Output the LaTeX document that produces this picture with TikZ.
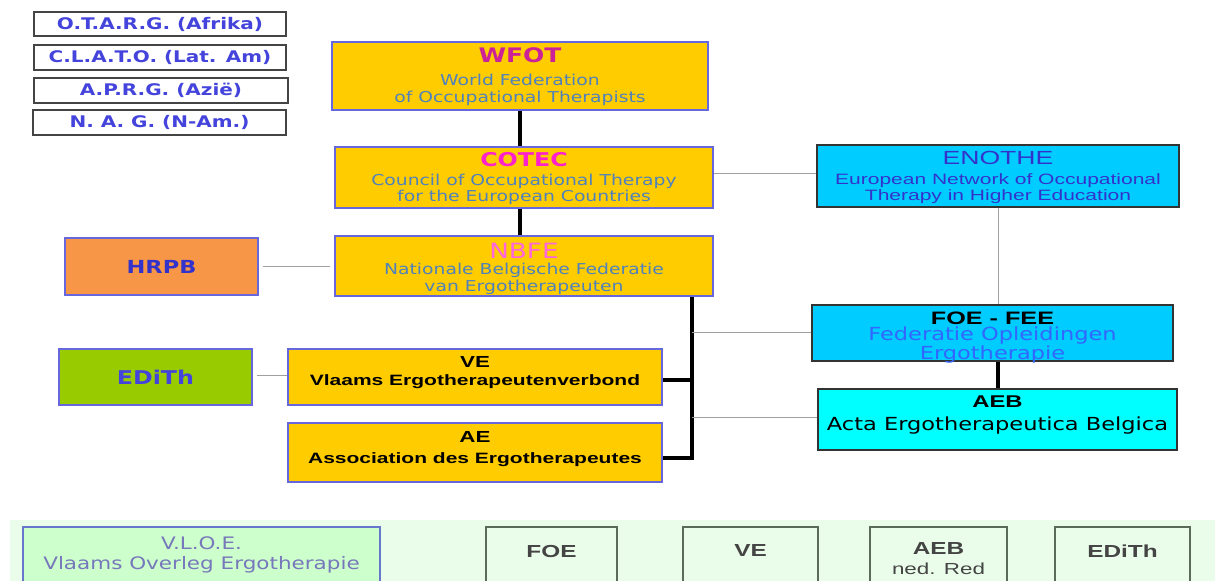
\documentclass[tikz,border=0pt]{standalone}
\usepackage{fontspec}
\setmainfont{DejaVu Sans}
\newfontfamily\comic[FakeStretch=1.25]{DejaVu Sans}
\newfontfamily\arialw[FakeStretch=1.4]{Liberation Sans}
\newcommand\fsz[2]{\fontsize{#1}{#2}\selectfont}
\definecolor{gold}{HTML}{FFCC00}
\definecolor{boxblue}{HTML}{6666DD}
\definecolor{subblue}{HTML}{4F81BD}
\definecolor{wfotc}{HTML}{CC2299}
\definecolor{cotecc}{HTML}{FF22CC}
\definecolor{nbfec}{HTML}{FF66DD}
\definecolor{leftblue}{HTML}{4444DD}
\definecolor{leftborder}{HTML}{444444}
\definecolor{cyanA}{HTML}{00CCFF}
\definecolor{cyanB}{HTML}{00FFFF}
\definecolor{enoc}{HTML}{3333CC}
\definecolor{foec}{HTML}{3366FF}
\definecolor{orangebox}{HTML}{F79646}
\definecolor{greenbox}{HTML}{99CC00}
\definecolor{band}{HTML}{EAFDEA}
\definecolor{vloefill}{HTML}{CCFFCC}
\definecolor{vloeborder}{HTML}{6677CC}
\definecolor{vloetext}{HTML}{7777BB}
\definecolor{botborder}{HTML}{5A6B5A}
\definecolor{bottext}{HTML}{444444}
\definecolor{thingray}{HTML}{A0A0A0}
\tikzset{
  leftbox/.style={draw=leftborder, line width=1pt, fill=white, text=leftblue,
    font=\comic\bfseries\fsz{8}{9}, inner sep=0pt},
  goldbox/.style={draw=boxblue, fill=gold, line width=0.8pt, inner sep=0pt,
    align=center, text=subblue},
  cyanbox/.style={draw=black!80, line width=0.8pt, inner sep=0pt, align=center},
  sidebox/.style={draw=boxblue, line width=0.8pt, inner sep=0pt, align=center},
  botbox/.style={draw=botborder, fill=band, line width=0.8pt, inner sep=0pt,
    align=center, text=bottext, font=\arialw\bfseries\fsz{8.7}{10},
    minimum height=31.5pt},
  blackline/.style={line width=1.6pt, black},
  grayline/.style={line width=0.5pt, thingray}
}
\begin{document}
\begin{tikzpicture}[x=0.5pt,y=-0.5pt]
\useasboundingbox (0,0) rectangle (1215,581);
\clip (0,0) rectangle (1215,581);
% bottom band
\fill[band] (10,520) rectangle (1215,581);

% left boxes
\node[leftbox, minimum width=126pt, minimum height=12pt] (otarg) at (160,24) {O.T.A.R.G. (Afrika)};
\node[leftbox, minimum width=126pt, minimum height=12.5pt] (clato) at (160,57.5) {C.L.A.T.O. (Lat. Am)};
\node[leftbox, minimum width=127pt, minimum height=12.5pt] (aprg) at (161,90.5) {A.P.R.G. (Azië)};
\node[leftbox, minimum width=126.5pt, minimum height=12.5pt] (nag) at (159.5,122.5) {N. A. G. (N-Am.)};

% main column
\node[goldbox, minimum width=188pt, minimum height=34pt, text depth=1pt,
  font=\comic\fsz{7.5}{8.5}] (wfot) at (520,76)
  {{\color{wfotc}\bfseries\fsz{10}{12}WFOT}\\[3.1pt] World Federation\\ of Occupational Therapists};
\node[goldbox, minimum width=189pt, minimum height=30.5pt, text depth=0.75pt,
  font=\comic\fsz{7.5}{8}] (cotec) at (524,177.5)
  {{\color{cotecc}\bfseries\fsz{9.5}{11}COTEC}\\[1.75pt] Council of Occupational Therapy\\ for the European Countries};
\node[goldbox, minimum width=189pt, minimum height=30pt, text depth=0pt,
  font=\comic\fsz{7.5}{8.5}] (nbfe) at (524,266)
  {{\color{nbfec}\fsz{10.5}{12}\rule{0pt}{8.7pt}NBFE}\\[-0.6pt] Nationale Belgische Federatie\\ van Ergotherapeuten};
\node[cyanbox, fill=cyanA, minimum width=181pt, minimum height=31pt, text depth=0.2pt,
  text=enoc, font=\arialw\fsz{7.5}{8}] (enothe) at (998,176)
  {{\fsz{9.5}{11}ENOTHE}\\[1.8pt] European Network of Occupational\\ Therapy in Higher Education};

% side boxes
\node[sidebox, fill=orangebox, minimum width=96.5pt, minimum height=28.5pt,
  text=enoc, font=\comic\bfseries\fsz{9}{10}] (hrpb) at (161.5,266.5) {HRPB};
\node[sidebox, fill=greenbox, minimum width=96.5pt, minimum height=28pt,
  text=leftblue, font=\comic\bfseries\fsz{9.5}{11}] (edith) at (155.5,377) {EDiTh};

% VE and AE
\node[goldbox, minimum width=187pt, minimum height=28pt, text depth=6pt, text=black,
  font=\arialw\bfseries\fsz{7.5}{9.3}] (ve) at (475,377)
  {{\fsz{8}{9.3}VE}\\ Vlaams Ergotherapeutenverbond};
\node[goldbox, minimum width=187pt, minimum height=29.5pt, text depth=4.9pt, text=black,
  font=\arialw\bfseries\fsz{7.5}{9.3}] (ae) at (475,452.5)
  {{\fsz{8}{9.3}AE}\\[1.4pt] Association des Ergotherapeutes};

% FOE-FEE and AEB
\node[cyanbox, fill=cyanA, minimum width=180.5pt, minimum height=28pt, text depth=0pt,
  font=\comic\fsz{9}{9.5}] (foe) at (992.5,333)
  {{\arialw\bfseries\fsz{9}{9.5}\rule{0pt}{9.5pt}FOE - FEE}\\[-1.5pt] {\color{foec}Federatie Opleidingen}\\ {\color{foec}Ergotherapie}};
\node[cyanbox, fill=cyanB, minimum width=179.5pt, minimum height=30.5pt, text depth=6.3pt,
  font=\comic\fsz{9}{9.5}] (aeb) at (997.5,419.5)
  {{\arialw\bfseries\fsz{8.5}{9.5}AEB}\\[1.7pt] Acta Ergotherapeutica Belgica};

% bottom row
\node[botbox, draw=vloeborder, fill=vloefill, minimum width=178.5pt, text=vloetext,
  font=\comic\fsz{8.6}{10}, text depth=5.5pt] (vloe) at (201.5,558.5)
  {V.L.O.E.\\ Vlaams Overleg Ergotherapie};
\node[botbox, minimum width=65.5pt, text depth=7.5pt] (bfoe) at (551.5,558.5) {FOE};
\node[botbox, minimum width=67.5pt, text depth=7.5pt] (bve) at (750.5,558.5) {VE};
\node[botbox, minimum width=68.5pt, text depth=0pt] (baeb) at (938.5,558.5)
  {AEB\\[-0.25pt] {\mdseries\fsz{8}{10}ned. Red}};
\node[botbox, minimum width=67.5pt, text depth=7.5pt] (bedith) at (1122.5,558.5) {EDiTh};

% connectors
\coordinate (bus) at (692,458);
\draw[blackline] (wfot.south) -- (wfot.south |- cotec.north);
\draw[blackline] (cotec.south -| wfot.south) -- (nbfe.north -| wfot.south);
\draw[blackline] (nbfe.south -| bus) -- ([yshift=-0.8pt]bus);
\draw[blackline] ([yshift=-1.5pt]ve.east) -- ([yshift=-1.5pt]ve.east -| bus);
\draw[blackline] (ae.east |- bus) -- (bus);
\draw[blackline] (foe.south -| enothe.south) -- (aeb.north -| enothe.south);

\draw[grayline] ([yshift=1.75pt]cotec.east) -- ([yshift=1.75pt]cotec.east -| enothe.west);
\draw[grayline] (enothe.south) -- (enothe.south |- foe.north);
\draw[grayline, shorten <=2pt, shorten >=2pt] (hrpb.east) -- (hrpb.east -| nbfe.west);
\draw[grayline, shorten <=2pt] ([yshift=0.5pt]edith.east) -- ([yshift=0.5pt]edith.east -| ve.west);
\draw[grayline] (foe.west -| bus) -- (foe.west);
\draw[grayline] ([yshift=1.2pt]aeb.west -| bus) -- ([yshift=1.2pt]aeb.west);
\end{tikzpicture}
\end{document}
